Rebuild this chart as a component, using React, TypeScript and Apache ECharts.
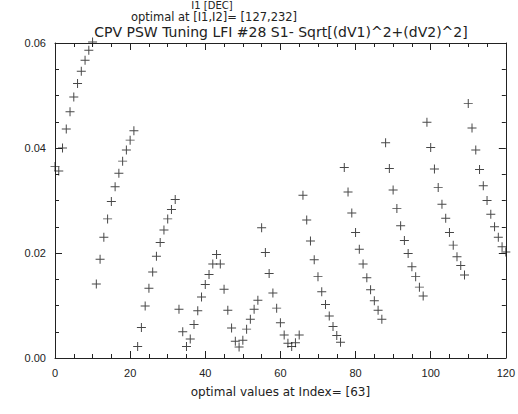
import React, { useEffect, useRef } from "react";
import * as echarts from "echarts";

// index 0..120, value of Sqrt[(dV1)^2+(dV2)^2]
const values: number[] = [
  0.0365, 0.0356, 0.0400, 0.0436, 0.0469, 0.0497, 0.0523, 0.0546, 0.0567, 0.0586, 0.0602,
  0.0141, 0.0188, 0.0230, 0.0265, 0.0298, 0.0326, 0.0352, 0.0375, 0.0396, 0.0415, 0.0433,
  0.0022, 0.0058, 0.0099, 0.0133, 0.0164, 0.0194, 0.0220, 0.0244, 0.0265, 0.0283, 0.0302,
  0.0093, 0.0050, 0.0022, 0.0036, 0.0064, 0.0090, 0.0116, 0.0140, 0.0159, 0.0179, 0.0197,
  0.0179, 0.0131, 0.0091, 0.0057, 0.0032, 0.0021, 0.0034, 0.0055, 0.0074, 0.0093, 0.0110,
  0.0248, 0.0201, 0.0161, 0.0124, 0.0095, 0.0067, 0.0044, 0.0028, 0.0022, 0.0029, 0.0044,
  0.0310, 0.0263, 0.0223, 0.0187, 0.0155, 0.0126, 0.0102, 0.0080, 0.0060, 0.0043, 0.0030,
  0.0363, 0.0316, 0.0276, 0.0239, 0.0207, 0.0179, 0.0153, 0.0130, 0.0109, 0.0091, 0.0074,
  0.0410, 0.0361, 0.0320, 0.0285, 0.0252, 0.0224, 0.0199, 0.0174, 0.0155, 0.0135, 0.0118,
  0.0449, 0.0401, 0.0360, 0.0325, 0.0293, 0.0266, 0.0239, 0.0215, 0.0193, 0.0176, 0.0158,
  0.0485, 0.0438, 0.0396, 0.0359, 0.0328, 0.0300, 0.0274, 0.0250, 0.0230, 0.0212, 0.0202,
];

const titleLines = [
  "I1 [DEC]",
  "optimal at [I1,I2]= [127,232]",
  "CPV PSW Tuning LFI #28 S1- Sqrt[(dV1)^2+(dV2)^2]",
];
const xName = "optimal values at Index= [63]";

const FONT = "Liberation Sans, Arial, sans-serif";
const WIDE = "DejaVu Sans, sans-serif";
const INK = "#222";

export default function App() {
  const ref = useRef<HTMLDivElement>(null);
  useEffect(() => {
    if (!ref.current) return;
    const chart = echarts.init(ref.current, undefined, { renderer: "svg" });
    const data = values.map((v, i) => [i, v]);
    const axisCommon = {
      type: "value" as const,
      axisLine: { show: true, onZero: false, lineStyle: { color: INK, width: 1 } },
      axisTick: { show: true, inside: true, length: 7, lineStyle: { color: INK } },
      minorTick: { show: true, splitNumber: 4, length: 4, lineStyle: { color: INK } },
      splitLine: { show: false },
      minorSplitLine: { show: false },
    };
    chart.setOption({
      animation: false,
      backgroundColor: "#ffffff",
      grid: { left: 55, right: 12, top: 43, bottom: 56 },
      graphic: [
        {
          type: "text",
          x: 212,
          y: 10,
          style: {
            text: titleLines[0],
            font: `10px ${WIDE}`,
            fill: INK,
            textAlign: "center",
            textVerticalAlign: "bottom",
          },
        },
        {
          type: "text",
          x: 214,
          y: 23,
          style: {
            text: titleLines[1],
            font: `11.5px ${WIDE}`,
            fill: INK,
            textAlign: "center",
            textVerticalAlign: "bottom",
          },
        },
        {
          type: "text",
          x: 281,
          y: 39,
          style: {
            text: titleLines[2],
            font: `14px ${WIDE}`,
            fill: INK,
            textAlign: "center",
            textVerticalAlign: "bottom",
          },
        },
      ],
      xAxis: [
        {
          ...axisCommon,
          position: "bottom",
          min: 0,
          max: 120,
          interval: 20,
          axisLabel: { show: true, fontSize: 11, fontFamily: FONT, color: INK, margin: 9 },
          name: xName,
          nameLocation: "middle",
          nameGap: 28,
          nameTextStyle: { fontSize: 12, fontFamily: WIDE, color: INK },
        },
        {
          ...axisCommon,
          position: "top",
          min: 0,
          max: 120,
          interval: 20,
          axisLabel: { show: false },
        },
      ],
      yAxis: [
        {
          ...axisCommon,
          position: "left",
          min: 0,
          max: 0.06,
          interval: 0.02,
          axisLabel: {
            show: true,
            fontSize: 11,
            fontFamily: FONT,
            color: INK,
            margin: 9,
            formatter: (v: number) => v.toFixed(2),
          },
        },
        {
          ...axisCommon,
          position: "right",
          min: 0,
          max: 0.06,
          interval: 0.02,
          axisLabel: { show: false },
        },
      ],
      series: [
        {
          type: "scatter",
          xAxisIndex: 0,
          yAxisIndex: 0,
          data,
          clip: false,
          symbol: "path://M0,4h9v1h-9zM4,0h1v9h-1z",
          symbolSize: 9,
          itemStyle: { color: "#1a1a1a" },
        },
      ],
    });
    return () => chart.dispose();
  }, []);
  return (
    <div
      ref={ref}
      style={{ position: "fixed", left: 0, top: 0, width: 518, height: 414, background: "#fff" }}
    />
  );
}
